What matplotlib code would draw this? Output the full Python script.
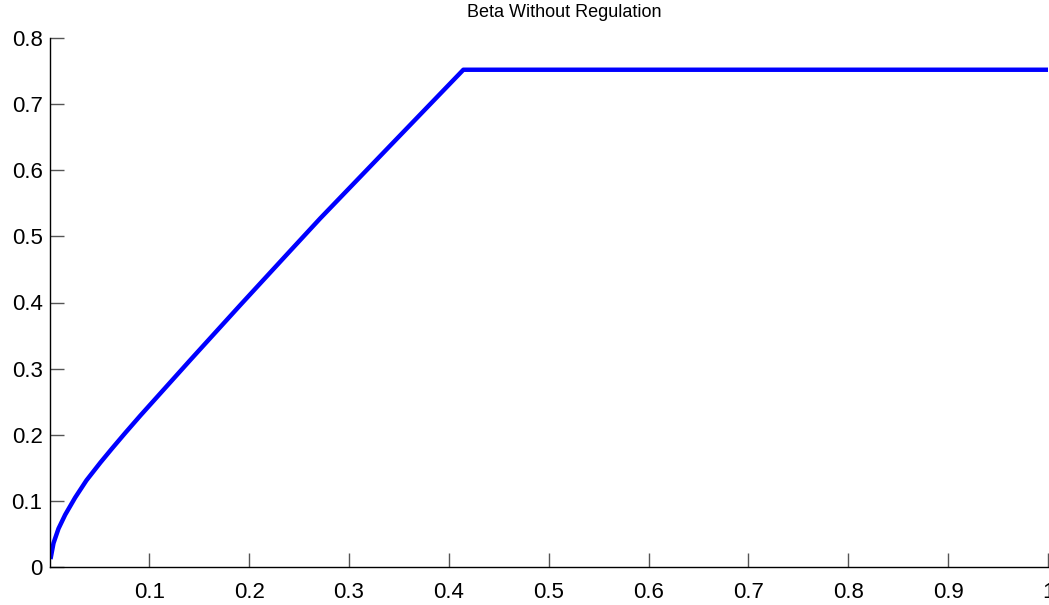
import matplotlib
matplotlib.use('Agg')
import matplotlib.pyplot as plt

# values
x_vals = [0.001, 0.004, 0.009, 0.0157, 0.0257, 0.037, 0.051, 0.0625, 0.076, 0.091,
          0.141, 0.191, 0.241, 0.271, 0.343, 0.4145, 0.6, 0.8, 1.0]
beta = [0.012, 0.036, 0.058, 0.079, 0.105, 0.131, 0.158, 0.179, 0.203, 0.229,
        0.313, 0.396, 0.478, 0.527, 0.640, 0.752, 0.752, 0.752, 0.752]

x_ticks = [0.1, 0.2, 0.3, 0.4, 0.5, 0.6, 0.7, 0.8, 0.9, 1.0]
x_labels = ['0.1', '0.2', '0.3', '0.4', '0.5', '0.6', '0.7', '0.8', '0.9', '1']
y_ticks = [0, 0.1, 0.2, 0.3, 0.4, 0.5, 0.6, 0.7, 0.8]
y_labels = ['0', '0.1', '0.2', '0.3', '0.4', '0.5', '0.6', '0.7', '0.8']

plt.rcParams['font.family'] = ['Liberation Sans', 'DejaVu Sans']

W, H = 1049, 605
fig = plt.figure(figsize=(W / 100, H / 100), dpi=100)
ax = fig.add_axes([49.5 / W, 38 / H, 998.5 / W, 529 / H])

ax.plot(x_vals, beta, color='#0000ff', linewidth=3.2, solid_capstyle='butt')

ax.set_xlim(0, 1)
ax.set_ylim(0, 0.8)
ax.set_xticks(x_ticks)
ax.set_xticklabels(x_labels)
ax.set_yticks(y_ticks)
ax.set_yticklabels(y_labels)

for side in ['top', 'right']:
    ax.spines[side].set_visible(False)
for side in ['left', 'bottom']:
    ax.spines[side].set_linewidth(1.0)
    ax.spines[side].set_color('black')

ax.tick_params(direction='in', length=10, width=1, color='#555555',
               labelsize=16, pad=5)
ax.tick_params(axis='x', pad=11)

ax.set_title('Beta Without Regulation', fontsize=13, x=0.516, pad=15)

fig.savefig('out.png', dpi=100)
